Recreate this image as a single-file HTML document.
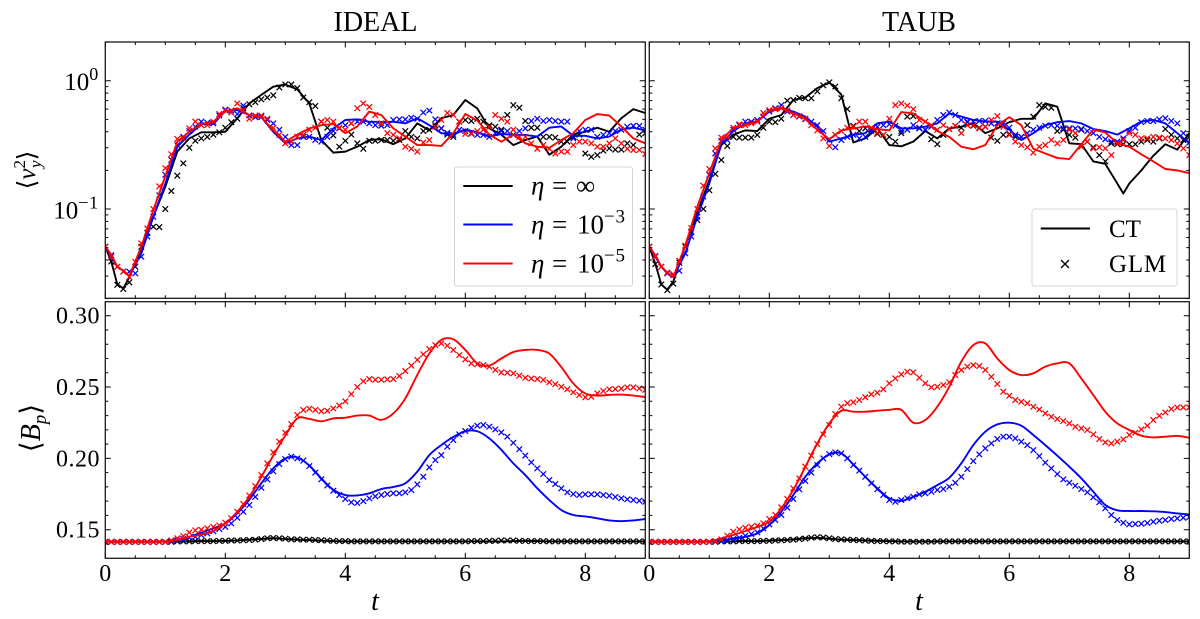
<!DOCTYPE html>
<html lang="en">
<head>
<meta charset="utf-8">
<title>IDEAL and TAUB comparison</title>
<style>
html,body{margin:0;padding:0;background:#fff;width:1200px;height:619px;overflow:hidden}
svg{display:block;filter:blur(.3px)}
text{font-family:"Liberation Serif","DejaVu Serif",serif;fill:#000}
</style>
</head>
<body>
<svg id="figure" xmlns="http://www.w3.org/2000/svg" width="1200" height="619" viewBox="0 0 1200 619">
  <rect width="1200" height="619" fill="#fff"/>
  <text x="375.5" y="31" font-size="28" text-anchor="middle">IDEAL</text>
  <text x="919" y="31" font-size="28" text-anchor="middle">TAUB</text>
  <text transform="translate(35,170) rotate(-90)" font-size="25" text-anchor="middle">⟨<tspan font-style="italic">v</tspan><tspan dy="-10" font-size="17">2</tspan><tspan dx="-8" dy="16" font-size="17" font-style="italic">y</tspan><tspan dy="-6">⟩</tspan></text>
  <text transform="translate(40,428) rotate(-90)" font-size="28" text-anchor="middle">⟨<tspan font-style="italic">B</tspan><tspan dy="6" font-size="19" font-style="italic">p</tspan><tspan dy="-6">⟩</tspan></text>
  <text x="375" y="610" font-size="28" font-style="italic" text-anchor="middle">t</text>
  <text x="919" y="610" font-size="28" font-style="italic" text-anchor="middle">t</text>
  <g id="plots"></g>
  <g>
    <rect x="454.5" y="167" width="178" height="119" rx="2.5" fill="#fff" fill-opacity=".85" stroke="#d4d4d4" stroke-width="1"/>
    <line x1="463.3" x2="512.7" y1="186" y2="186" stroke="#000" stroke-width="1.9"/>
    <line x1="463.3" x2="512.7" y1="224.5" y2="224.5" stroke="#00f" stroke-width="1.9"/>
    <line x1="463.3" x2="512.7" y1="263.5" y2="263.5" stroke="#f00" stroke-width="1.9"/>
    <text y="194.5" font-size="27"><tspan x="531" font-style="italic">η</tspan><tspan x="552">=</tspan><tspan x="576">∞</tspan></text>
    <text y="233.5" font-size="27"><tspan x="531" font-style="italic">η</tspan><tspan x="552">=</tspan><tspan x="577">10</tspan><tspan dy="-11" font-size="19" letter-spacing=".8">−3</tspan></text>
    <text y="272.5" font-size="27"><tspan x="531" font-style="italic">η</tspan><tspan x="552">=</tspan><tspan x="577">10</tspan><tspan dy="-11" font-size="19" letter-spacing=".8">−5</tspan></text>
  </g>
  <g>
    <rect x="1032" y="209" width="145" height="77" rx="2.5" fill="#fff" fill-opacity=".85" stroke="#d4d4d4" stroke-width="1"/>
    <line x1="1040.7" x2="1090" y1="228.5" y2="228.5" stroke="#000" stroke-width="1.9"/>
    <path d="M1061,260L1069,268M1069,260L1061,268" stroke="#000" stroke-width="1.3" fill="none"/>
    <text x="1109" y="237" font-size="25">CT</text>
    <text x="1109" y="272" font-size="25" letter-spacing=".8">GLM</text>
  </g>
</svg>
<script>
const lineTimes=[0,.1,.2,.3,.4,.6,.8,1,1.2,1.4,1.6,1.8,2,2.2,2.4,2.6,2.8,3,3.2,3.4,3.6,3.8,4,4.2,4.4,4.6,4.8,5,5.2,5.4,5.6,5.8,6,6.2,6.4,6.6,6.8,7,7.2,7.4,7.6,7.8,8,8.2,8.4,8.6,8.8,9];
const taubBlackLineTimes=[0,.1,.2,.3,.4,.6,.8,1,1.2,1.4,1.6,1.8,2,2.2,2.4,2.6,2.8,3,3.2,3.4,3.6,3.8,4,4.2,4.4,4.6,4.8,5,5.2,5.4,5.6,5.8,6,6.2,6.4,6.6,6.8,7,7.2,7.4,7.6,7.8,7.9,8,8.2,8.4,8.6,8.8,9];
const glmStep=0.1;
const xMajorTicks=[0,2,4,6,8];
const xMinorTicks=[.5,1,1.5,2.5,3,3.5,4.5,5,5.5,6.5,7,7.5,8.5];
const velocityMajorTicks=[1,0.1];
const velocityTickExponents=['0','−1'];
const velocityMinorTicks=[2,.9,.8,.7,.6,.5,.4,.3,.2,.09,.08,.07,.06,.05,.04,.03,.02];
const fieldMajorTicks=[.15,.2,.25,.3];
const fieldTickLabels=['0.15','0.20','0.25','0.30'];
const fieldMinorTicks=[.14,.16,.17,.18,.19,.21,.22,.23,.24,.26,.27,.28,.29];

/* IDEAL, velocity */
const idealVyBlackLine=[.0508,.039,.0258,.0241,.0293,.0493,.087,.149,.28,.355,.396,.396,.40,.51,.665,.775,.898,.935,.855,.665,.345,.275,.28,.306,.345,.35,.32,.355,.465,.41,.51,.54,.707,.608,.425,.38,.315,.345,.367,.265,.306,.38,.4,.43,.4,.51,.6,.56];
const idealVyBlueLine=[.0508,.0425,.0355,.033,.03,.045,.087,.158,.306,.38,.46,.46,.58,.59,.54,.52,.4,.325,.355,.367,.345,.425,.494,.5,.478,.478,.478,.465,.51,.45,.39,.38,.417,.396,.367,.385,.378,.378,.367,.43,.44,.372,.372,.355,.367,.417,.43,.41];
const idealVyRedLine=[.0508,.044,.0355,.033,.03,.0508,.098,.18,.335,.4,.46,.478,.575,.61,.54,.52,.41,.335,.38,.425,.45,.46,.39,.44,.575,.54,.425,.367,.315,.315,.31,.39,.55,.49,.38,.335,.38,.325,.306,.3,.345,.39,.494,.55,.535,.44,.355,.325];
const idealVyBlackGlm=[.0508,.039,.0256,.0238,.0268,.0355,.0508,.065,.0728,.0722,.1,.138,.182,.227,.3,.34,.355,.365,.38,.396,.43,.475,.505,.61,.655,.68,.715,.74,.77,.885,.935,.935,.875,.74,.68,.635,.48,.43,.375,.306,.34,.38,.325,.295,.34,.34,.345,.345,.34,.345,.405,.365,.355,.405,.415,.45,.425,.38,.365,.48,.494,.485,.505,.48,.45,.438,.415,.54,.645,.615,.485,.43,.43,.365,.365,.36,.335,.335,.365,.38,.271,.255,.263,.285,.297,.29,.29,.325,.315,.38,.39];
const idealVyBlueGlm=[.0508,.0437,.0355,.0325,.0325,.0315,.0425,.061,.087,.128,.185,.241,.315,.365,.405,.438,.48,.47,.465,.535,.595,.585,.55,.64,.535,.52,.52,.494,.465,.415,.365,.315,.315,.365,.365,.345,.335,.365,.405,.425,.45,.465,.48,.48,.465,.45,.445,.45,.494,.5,.5,.515,.505,.565,.585,.5,.425,.392,.378,.415,.405,.39,.378,.378,.365,.39,.405,.405,.378,.405,.425,.485,.505,.485,.494,.485,.48,.48,.355,.405,.415,.415,.365,.378,.39,.405,.415,.438,.445,.445,.415];
const idealVyRedGlm=[.0508,.0425,.0355,.0325,.0295,.0387,.054,.0705,.1,.15,.208,.267,.352,.355,.425,.48,.45,.45,.48,.55,.585,.565,.665,.59,.505,.535,.535,.505,.43,.378,.325,.335,.365,.378,.415,.43,.48,.494,.48,.43,.415,.465,.61,.665,.625,.54,.465,.39,.378,.355,.306,.295,.28,.33,.345,.438,.494,.56,.54,.48,.385,.385,.405,.415,.438,.54,.505,.48,.415,.365,.365,.325,.295,.315,.295,.271,.28,.28,.315,.335,.335,.325,.306,.306,.325,.355,.325,.295,.288,.288,.268];

/* TAUB, velocity */
const taubVyBlackLine=[.0508,.0375,.0258,.0235,.0272,.052,.0935,.168,.315,.38,.41,.405,.505,.54,.707,.74,.875,.97,.78,.33,.355,.425,.315,.308,.335,.405,.355,.425,.438,.465,.39,.425,.475,.505,.505,.665,.627,.325,.32,.235,.225,.158,.132,.158,.2,.26,.32,.29,.39];
const taubVyBlueLine=[.0508,.0425,.0355,.0315,.0295,.0451,.087,.158,.325,.405,.465,.48,.575,.61,.575,.525,.438,.335,.355,.378,.39,.465,.48,.425,.425,.438,.465,.556,.525,.494,.48,.48,.415,.345,.39,.45,.475,.485,.465,.42,.405,.38,.425,.48,.494,.465,.39,.325];
const taubVyRedLine=[.0508,.0437,.0355,.032,.0295,.052,.104,.19,.345,.43,.45,.48,.59,.61,.556,.505,.415,.35,.41,.425,.44,.42,.41,.57,.556,.48,.405,.365,.306,.292,.315,.45,.52,.45,.295,.271,.25,.245,.32,.415,.395,.325,.306,.267,.235,.205,.2,.19];
const taubVyBlackGlm=[.0508,.0372,.0258,.0233,.0262,.0382,.0508,.0668,.082,.1,.14,.188,.241,.31,.365,.36,.36,.36,.378,.43,.48,.475,.505,.7,.707,.735,.73,.73,.825,.92,.97,.9,.73,.6,.445,.405,.425,.415,.385,.378,.365,.335,.39,.525,.53,.425,.415,.35,.32,.378,.42,.445,.43,.475,.445,.43,.438,.36,.34,.378,.385,.365,.365,.45,.525,.645,.625,.615,.405,.415,.378,.36,.415,.335,.303,.263,.235,.325,.32,.32,.32,.32,.335,.345,.335,.355,.42,.378,.355,.345,.365];
const taubVyBlueGlm=[.0508,.043,.0355,.0315,.0305,.033,.0451,.061,.087,.125,.185,.271,.34,.345,.415,.45,.48,.48,.494,.525,.575,.61,.645,.575,.54,.525,.5,.48,.45,.405,.345,.303,.345,.365,.378,.355,.365,.405,.438,.45,.458,.445,.405,.415,.45,.43,.415,.438,.494,.54,.565,.54,.494,.48,.48,.485,.485,.465,.465,.465,.43,.378,.365,.39,.415,.43,.445,.45,.445,.425,.425,.425,.42,.405,.39,.365,.35,.335,.335,.355,.405,.43,.475,.485,.485,.5,.51,.485,.465,.39,.33];
const taubVyRedGlm=[.0508,.0425,.0355,.032,.031,.0395,.052,.071,.1,.152,.205,.297,.36,.365,.43,.458,.45,.465,.48,.56,.59,.6,.61,.585,.54,.53,.505,.45,.41,.355,.31,.378,.405,.43,.438,.48,.48,.43,.392,.378,.505,.645,.665,.64,.6,.494,.48,.45,.415,.45,.42,.445,.39,.45,.45,.425,.438,.494,.53,.438,.378,.335,.315,.303,.275,.306,.315,.345,.325,.345,.415,.39,.306,.335,.297,.303,.297,.263,.325,.345,.39,.378,.355,.355,.365,.36,.355,.345,.325,.297,.263];

/* IDEAL, field */
const idealBpBlackLine=[.1416,.1416,.1416,.1416,.1416,.1416,.1416,.1417,.1418,.1418,.142,.142,.1422,.1425,.143,.1435,.144,.1435,.143,.1427,.1423,.142,.1418,.1418,.1418,.1418,.1418,.1418,.1418,.1418,.1418,.1418,.1418,.1418,.1418,.1418,.142,.1422,.142,.1418,.1418,.1418,.1418,.1418,.1418,.1418,.1418,.1418];
const idealBpBlueLine=[.1416,.1416,.1416,.1416,.1416,.1416,.1416,.1418,.1428,.145,.148,.151,.1544,.1615,.171,.1825,.193,.2,.2007,.195,.186,.178,.1743,.174,.1755,.1785,.18,.1825,.1907,.2023,.2093,.215,.219,.219,.214,.206,.1965,.1883,.179,.1708,.1638,.1603,.1593,.158,.1565,.156,.1565,.1575];
const idealBpRedLine=[.1416,.1416,.1416,.1416,.1416,.1416,.1416,.1418,.143,.145,.1465,.149,.1544,.1626,.173,.187,.202,.216,.228,.2276,.226,.228,.2285,.23,.23,.227,.2315,.242,.2585,.2735,.283,.2835,.276,.2665,.265,.27,.2745,.276,.276,.2735,.264,.2525,.2455,.244,.2445,.2447,.244,.243];
const idealBpBlackGlm=[.1415,.1415,.1415,.1415,.1415,.1415,.1415,.1415,.1415,.1415,.1415,.1415,.1418,.1418,.1418,.142,.142,.142,.142,.1422,.1422,.1424,.1424,.1426,.1428,.143,.1435,.144,.1442,.144,.1437,.1432,.1432,.143,.143,.1428,.1426,.1424,.1422,.142,.142,.1418,.1418,.1418,.1418,.1418,.1418,.1418,.1418,.1418,.1418,.1418,.1418,.1418,.1418,.1418,.1418,.1418,.1418,.1418,.1418,.142,.142,.142,.1422,.1422,.1424,.1424,.1424,.1422,.1422,.142,.142,.142,.1418,.1418,.1418,.1418,.1418,.1418,.1418,.1418,.1418,.1418,.1418,.1418,.1418,.1418,.1418,.1418,.1418];
const idealBpBlueGlm=[.1415,.1415,.1415,.1415,.1415,.1415,.1415,.1415,.1415,.1415,.1415,.142,.1425,.1435,.1444,.145,.1463,.1474,.149,.1505,.152,.1544,.1584,.1626,.1673,.173,.1794,.1853,.191,.196,.1995,.2012,.2,.1984,.1946,.19,.1853,.181,.1773,.1743,.1715,.1692,.1687,.17,.172,.1734,.1743,.175,.1755,.1755,.1762,.1778,.1818,.1871,.1937,.1988,.2023,.2082,.2129,.2168,.2192,.2215,.2229,.2234,.2222,.2203,.2182,.2152,.2109,.2065,.2019,.1972,.193,.189,.1848,.182,.179,.1762,.175,.1743,.1748,.1748,.1748,.1743,.1738,.1729,.172,.1713,.1708,.1703,.1696];
const idealBpRedGlm=[.1415,.1415,.1415,.1415,.1415,.1415,.1415,.1415,.1415,.1415,.1415,.1425,.144,.1455,.148,.1495,.15,.151,.152,.153,.155,.158,.1626,.168,.174,.1806,.1883,.1965,.2042,.2117,.218,.224,.2304,.2339,.2348,.234,.233,.2334,.235,.237,.24,.245,.25,.254,.2556,.2551,.2551,.2554,.2556,.2577,.2612,.265,.269,.273,.2766,.2794,.2806,.279,.276,.2724,.2694,.2666,.266,.2654,.2643,.262,.2603,.26,.2596,.258,.2565,.256,.2556,.255,.2533,.252,.2502,.2484,.2463,.2444,.2428,.2432,.2456,.2472,.2484,.2486,.249,.2498,.2498,.249,.248];

/* TAUB, field */
const taubBpBlackLine=[.1416,.1416,.1416,.1416,.1416,.1416,.1416,.1417,.1418,.1418,.142,.142,.1424,.1427,.1432,.144,.1442,.1437,.143,.1427,.1425,.1422,.142,.1418,.1418,.1418,.1418,.1418,.1418,.1418,.1418,.1418,.1418,.1418,.1418,.1418,.1418,.1418,.1418,.1418,.1418,.1418,.1418,.1418,.1418,.1418,.1418,.1418];
const taubBpBlueLine=[.1416,.1416,.1416,.1416,.1416,.1416,.1416,.1418,.1423,.144,.145,.1474,.1533,.1626,.1743,.1871,.1965,.2028,.2035,.1958,.1871,.179,.172,.1703,.173,.1766,.1813,.1864,.1965,.2093,.2187,.2238,.225,.2229,.2164,.2093,.2019,.1942,.186,.1766,.1673,.1636,.1631,.1631,.1629,.1624,.1614,.1607];
const taubBpRedLine=[.1416,.1416,.1416,.1416,.1416,.1416,.1416,.1418,.144,.1463,.149,.152,.1556,.165,.178,.194,.2105,.2245,.2334,.2327,.2327,.2334,.234,.234,.225,.2269,.2362,.2502,.2678,.2794,.2806,.27,.2619,.2584,.2596,.2643,.2666,.2666,.256,.2444,.2327,.2245,.2199,.2159,.2147,.2152,.2157,.2145];
const taubBpBlackGlm=[.1415,.1415,.1415,.1415,.1415,.1415,.1415,.1415,.1415,.1415,.1415,.1415,.1418,.1418,.1418,.142,.142,.142,.142,.1422,.1422,.1424,.1426,.1428,.143,.1434,.1438,.1444,.1447,.1445,.144,.1434,.1432,.143,.1428,.1426,.1424,.1422,.142,.142,.1418,.1418,.1416,.1416,.1416,.1416,.1416,.1416,.1418,.1418,.1418,.1418,.1418,.1418,.1418,.1418,.1418,.1418,.1418,.1418,.1418,.1418,.1418,.1418,.1418,.1418,.1418,.1418,.1418,.1418,.1418,.1418,.1418,.1418,.1418,.1418,.1418,.1418,.1418,.1418,.1418,.1418,.1418,.1418,.1418,.1418,.1418,.1418,.1418,.1418,.1418];
const taubBpBlueGlm=[.1415,.1415,.1415,.1415,.1415,.1415,.1415,.1415,.1415,.1415,.1415,.142,.1423,.1428,.1435,.1444,.1458,.147,.1481,.1509,.1537,.1568,.1603,.1654,.1715,.1783,.1841,.19,.1953,.2,.203,.2042,.2035,.2,.1953,.1914,.1871,.1825,.1783,.1743,.1708,.1696,.1708,.172,.1731,.1748,.1755,.1766,.1778,.1785,.1801,.1829,.1871,.1925,.1981,.2028,.207,.2105,.2136,.2152,.2152,.214,.2117,.2093,.2058,.2016,.197,.193,.189,.1853,.1829,.1808,.1785,.1762,.1727,.1692,.165,.1603,.1568,.1549,.1537,.154,.1542,.1547,.1556,.1563,.1568,.1575,.1579,.1584,.1589];
const taubBpRedGlm=[.1415,.1415,.1415,.1415,.1415,.1415,.1415,.1415,.1415,.1415,.1415,.142,.1432,.1458,.1486,.1502,.1514,.1521,.1528,.1544,.1575,.1603,.1657,.1715,.179,.186,.1942,.2019,.21,.2168,.2234,.2311,.2362,.2386,.2393,.2409,.2428,.2449,.246,.2484,.2526,.2561,.2589,.2607,.2603,.2565,.2526,.2498,.2502,.2514,.2533,.2584,.2619,.2643,.2654,.2647,.2619,.2572,.2521,.2467,.2439,.2409,.2397,.2386,.2362,.2343,.2315,.2292,.2276,.2262,.2245,.2222,.221,.2199,.2168,.2136,.2112,.2105,.2117,.2133,.2164,.218,.2203,.2229,.2269,.2299,.2322,.2346,.2357,.2357,.2357];

const NS='http://www.w3.org/2000/svg';
const plots=document.getElementById('plots');
const timeAxis=(left,t)=>left+60*t;
const velocityAxis=v=>80.7-128.3*Math.log10(v);
const fieldAxis=v=>529.7-(v-.15)*1426.7;

function make(tag,attrs,parent){
  const el=document.createElementNS(NS,tag);
  for(const k in attrs)el.setAttribute(k,attrs[k]);
  parent.appendChild(el);
  return el;
}

function drawTicks(g,left,right,top,bottom,yAxis,yMajor,yMinor){
  let d='';
  for(const t of xMajorTicks){const x=timeAxis(left,t);d+=`M${x},${bottom}v-5.5M${x},${top}v5.5`;}
  for(const t of xMinorTicks){const x=timeAxis(left,t);d+=`M${x},${bottom}v-3M${x},${top}v3`;}
  for(const v of yMajor){const y=yAxis(v);d+=`M${left},${y}h5.5M${right},${y}h-5.5`;}
  for(const v of yMinor){const y=yAxis(v);d+=`M${left},${y}h3M${right},${y}h-3`;}
  const ticks=make('path',{d:d,stroke:'#000','stroke-width':1,fill:'none'},g);
  
  
}

function curveThrough(p){
  let d=`M${p[0][0].toFixed(2)},${p[0][1].toFixed(2)}`;
  for(let i=0;i<p.length-1;i++){
    const a=p[Math.max(i-1,0)],b=p[i],c=p[i+1],e=p[Math.min(i+2,p.length-1)];
    const c1x=b[0]+(c[0]-a[0])/6,c1y=b[1]+(c[1]-a[1])/6,c2x=c[0]-(e[0]-b[0])/6,c2y=c[1]-(e[1]-b[1])/6;
    d+=`C${c1x.toFixed(2)},${c1y.toFixed(2)} ${c2x.toFixed(2)},${c2y.toFixed(2)} ${c[0].toFixed(2)},${c[1].toFixed(2)}`;
  }
  return d;
}

function drawSeries(g,left,yAxis,times,lineValues,glmValues,color,label,smooth){
  const p=lineValues.map((v,i)=>[timeAxis(left,times[i]),yAxis(v)]);
  const d=smooth?curveThrough(p):'M'+p.map(q=>q[0].toFixed(2)+','+q[1].toFixed(2)).join('L');
  const line=make('path',{d:d,fill:'none',stroke:color,'stroke-width':1.9,'stroke-linejoin':'round'},g);
  
  
  const markers=make('g',{stroke:color,'stroke-width':1.25,fill:'none'},g);
  
  
  glmValues.forEach((v,i)=>{
    const x=timeAxis(left,i*glmStep),y=yAxis(v),r=2.8;
    const m=make('path',{d:`M${(x-r).toFixed(2)},${(y-r).toFixed(2)}L${(x+r).toFixed(2)},${(y+r).toFixed(2)}M${(x+r).toFixed(2)},${(y-r).toFixed(2)}L${(x-r).toFixed(2)},${(y+r).toFixed(2)}`},markers);
    
    
  });
}

function drawPanel(cfg){
  const {name,left,top,bottom,yAxis,yMajor,yMinor,series,smooth}=cfg;
  const right=left+540;
  const g=make('g',{},plots);
  
  
  const clipId=name+'-clip';
  const defs=make('clipPath',{id:clipId},g);
  make('rect',{x:left,y:top,width:540,height:bottom-top},defs);
  const marks=make('g',{'clip-path':`url(#${clipId})`},g);
  
  
  for(const s of series)drawSeries(marks,left,yAxis,s.times,s.line,s.glm,s.color,s.label,smooth);
  drawTicks(g,left,right,top,bottom,yAxis,yMajor,yMinor);
  const frame=make('rect',{x:left,y:top,width:540,height:bottom-top,fill:'none',stroke:'#1a1a1a','stroke-width':1.3},g);
  
  
}

drawPanel({name:'ideal-velocity',left:105.3,top:42,bottom:298.3,yAxis:velocityAxis,yMajor:velocityMajorTicks,yMinor:velocityMinorTicks,smooth:false,series:[
  {times:lineTimes,line:idealVyBlackLine,glm:idealVyBlackGlm,color:'#000',label:'eta-infinity'},
  {times:lineTimes,line:idealVyBlueLine,glm:idealVyBlueGlm,color:'#00f',label:'eta-1e-3'},
  {times:lineTimes,line:idealVyRedLine,glm:idealVyRedGlm,color:'#f00',label:'eta-1e-5'}]});
drawPanel({name:'taub-velocity',left:649.3,top:42,bottom:298.3,yAxis:velocityAxis,yMajor:velocityMajorTicks,yMinor:velocityMinorTicks,smooth:false,series:[
  {times:taubBlackLineTimes,line:taubVyBlackLine,glm:taubVyBlackGlm,color:'#000',label:'eta-infinity'},
  {times:lineTimes,line:taubVyBlueLine,glm:taubVyBlueGlm,color:'#00f',label:'eta-1e-3'},
  {times:lineTimes,line:taubVyRedLine,glm:taubVyRedGlm,color:'#f00',label:'eta-1e-5'}]});
drawPanel({name:'ideal-field',left:105.3,top:301.7,bottom:558.3,yAxis:fieldAxis,yMajor:fieldMajorTicks,yMinor:fieldMinorTicks,smooth:true,series:[
  {times:lineTimes,line:idealBpBlackLine,glm:idealBpBlackGlm,color:'#000',label:'eta-infinity'},
  {times:lineTimes,line:idealBpBlueLine,glm:idealBpBlueGlm,color:'#00f',label:'eta-1e-3'},
  {times:lineTimes,line:idealBpRedLine,glm:idealBpRedGlm,color:'#f00',label:'eta-1e-5'}]});
drawPanel({name:'taub-field',left:649.3,top:301.7,bottom:558.3,yAxis:fieldAxis,yMajor:fieldMajorTicks,yMinor:fieldMinorTicks,smooth:true,series:[
  {times:lineTimes,line:taubBpBlackLine,glm:taubBpBlackGlm,color:'#000',label:'eta-infinity'},
  {times:lineTimes,line:taubBpBlueLine,glm:taubBpBlueGlm,color:'#00f',label:'eta-1e-3'},
  {times:lineTimes,line:taubBpRedLine,glm:taubBpRedGlm,color:'#f00',label:'eta-1e-5'}]});

const labels=make('g',{},plots);


for(const left of [105.3,649.3]){
  for(const t of xMajorTicks){
    const el=make('text',{x:timeAxis(left,t),y:581,'font-size':24,'text-anchor':'middle'},labels);
    
    
    el.textContent=String(t);
  }
}
fieldMajorTicks.forEach((v,i)=>{
  const el=make('text',{x:100,y:fieldAxis(v)+8,'font-size':24,'text-anchor':'end','letter-spacing':'.5'},labels);
  
  
  el.textContent=fieldTickLabels[i];
});
velocityMajorTicks.forEach((v,i)=>{
  const el=make('text',{x:99,y:velocityAxis(v)+9.5,'font-size':25,'text-anchor':'end'},labels);
  
  
  const base=make('tspan',{},el);
  base.textContent='10';
  const sup=make('tspan',{dy:-10,'font-size':18,'letter-spacing':'.8'},el);
  sup.textContent=velocityTickExponents[i];
});
</script>
</body>
</html>
